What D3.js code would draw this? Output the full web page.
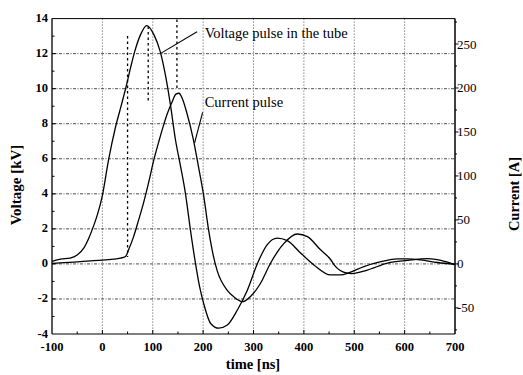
<!DOCTYPE html>
<html>
<head>
<meta charset="utf-8">
<script src="https://cdn.jsdelivr.net/npm/d3@7"></script>
<style>
  html, body { margin: 0; padding: 0; background: #fff; }
  svg { display: block; }
</style>
</head>
<body>
<svg id="chart" width="523" height="375"></svg>
<script>
// ---- data (time in ns) ----
const voltageT = [-100, -83, -64, -50, -37, -27, -17, -10, 0, 12, 26, 38, 47, 56, 64, 76, 88, 102, 115, 125, 135, 145, 155, 165, 175, 185, 193, 201, 215, 231, 248, 268, 288, 308, 327, 347, 367, 394, 420, 453, 473, 490, 519, 553, 586, 606, 632, 665, 700];
const voltageKV = [0.15, 0.27, 0.33, 0.51, 0.9, 1.47, 2.2, 2.8, 3.9, 5.9, 7.8, 9.1, 10.1, 11.2, 12.1, 13.1, 13.6, 13.1, 12.1, 10.8, 9.1, 7.1, 5.6, 4.0, 1.9, 0.0, -1.3, -2.25, -3.4, -3.67, -3.49, -2.63, -1.49, 0.04, 1.09, 1.47, 1.33, 0.61, -0.06, -0.63, -0.63, -0.5, -0.15, 0.13, 0.29, 0.29, 0.23, 0.08, -0.02];

const currentT = [-100, -24, 36, 46, 52, 62, 72, 82, 92, 102, 112, 120, 129, 139, 146, 152, 158, 168, 180, 190, 201, 211, 220, 228, 248, 262, 278, 294, 314, 334, 360, 387, 407, 433, 453, 460, 486, 495, 526, 566, 606, 646, 672, 700];
const currentA = [0.6, 3.4, 6.6, 8.4, 16, 31, 50, 70, 93, 118, 139, 155, 171, 185, 193, 194, 189, 171, 143, 113, 78, 38, 10, -8, -30, -38, -43, -37, -22, 1, 23, 34, 31, 16, 5, -1, -10.5, -11, -7, 1, 4, 6, 4, -1];

const timeTicks = [-100, 0, 100, 200, 300, 400, 500, 600, 700];
const voltTicks = [-4, -2, 0, 2, 4, 6, 8, 10, 12, 14];
const currTicks = [-50, 0, 50, 100, 150, 200, 250];

// dashed markers: time, top (kV), bottom (kV)
const markT = [50, 91, 148];
const markTop = [13.0, 13.55, 13.95];
const markBottom = [0.4, 9.2, 10.0];

// annotations
const annLabels = ["Voltage pulse in the tube", "Current pulse"];
const annTextT = [203, 203];
const annTextV = [12.9, 8.95];
const annFromT = [188, 199];
const annFromV = [13.25, 8.65];
const annToT = [115, 183];
const annToV = [12.0, 6.9];

// ---- layout ----
const FONT = '"Liberation Serif", "Times New Roman", serif';
const svg = d3.select("#chart");
const m = { left: 52, right: 455, top: 18.6, bottom: 334 };

const x = d3.scaleLinear().domain([-100, 700]).range([m.left, m.right]);
const yV = d3.scaleLinear().domain([-4, 14]).range([m.bottom, m.top]);
const yI = d3.scaleLinear().domain([-79.7, 278.9]).range([m.bottom, m.top]);

function txt(sel) { return sel.style("font-family", FONT).attr("fill", "#000"); }

// grid
const g = svg.append("g");
g.selectAll(".hgrid").data(voltTicks.filter(v => v > -4 && v < 14)).enter().append("line")
  .attr("x1", m.left).attr("x2", m.right)
  .attr("y1", d => yV(d)).attr("y2", d => yV(d))
  .attr("stroke", "#222").attr("stroke-width", 0.8).attr("stroke-dasharray", "3,1.5,1,1.5");
g.selectAll(".vgrid").data(timeTicks.filter(t => t > -100 && t < 700)).enter().append("line")
  .attr("y1", m.top).attr("y2", m.bottom)
  .attr("x1", d => x(d)).attr("x2", d => x(d))
  .attr("stroke", "#222").attr("stroke-width", 0.8).attr("stroke-dasharray", "1,2");

// frame
svg.append("line").attr("x1", m.left).attr("x2", m.right).attr("y1", m.top).attr("y2", m.top)
  .attr("stroke", "#000").attr("stroke-width", 1);
svg.append("line").attr("x1", m.left).attr("x2", m.right).attr("y1", m.bottom).attr("y2", m.bottom)
  .attr("stroke", "#000").attr("stroke-width", 1.2);
svg.append("line").attr("x1", m.left).attr("x2", m.left).attr("y1", m.top).attr("y2", m.bottom)
  .attr("stroke", "#000").attr("stroke-width", 1.3);
svg.append("line").attr("x1", m.right).attr("x2", m.right).attr("y1", m.top).attr("y2", m.bottom)
  .attr("stroke", "#000").attr("stroke-width", 1.5);

// minor ticks
const minorV = d3.range(-3, 14, 1);
svg.selectAll(".mv").data(minorV).enter().append("line")
  .attr("x1", m.left).attr("x2", d => m.left + (d % 2 === 0 ? 4 : 2.5))
  .attr("y1", d => yV(d)).attr("y2", d => yV(d)).attr("stroke", "#000").attr("stroke-width", 1);
const minorT = d3.range(-50, 700, 50);
svg.selectAll(".mt").data(minorT).enter().append("line")
  .attr("x1", d => x(d)).attr("x2", d => x(d))
  .attr("y1", m.bottom).attr("y2", d => m.bottom - (d % 100 === 0 ? 4 : 2.5))
  .attr("stroke", "#000").attr("stroke-width", 1);
const minorI = d3.range(-75, 279, 25);
svg.selectAll(".mi").data(minorI).enter().append("line")
  .attr("x1", m.right).attr("x2", d => m.right + (d % 50 === 0 ? 3.5 : 2))
  .attr("y1", d => yI(d)).attr("y2", d => yI(d)).attr("stroke", "#000").attr("stroke-width", 1);

// tick labels
txt(svg.selectAll(".lv").data(voltTicks).enter().append("text"))
  .attr("x", m.left - 4).attr("y", d => yV(d) + 3.5)
  .attr("text-anchor", "end").style("font-size", "12.5px").style("font-weight", "bold")
  .text(d => d);
txt(svg.selectAll(".lt").data(timeTicks).enter().append("text"))
  .attr("x", d => x(d)).attr("y", 351)
  .attr("text-anchor", "middle").style("font-size", "12.5px").style("font-weight", "bold")
  .text(d => d);
txt(svg.selectAll(".li").data(currTicks).enter().append("text"))
  .attr("x", m.right + 2).attr("y", d => yI(d) + 4.5)
  .attr("text-anchor", "start").style("font-size", "13px")
  .text(d => d);

// axis titles
txt(svg.append("text")).attr("transform", "translate(21,185) rotate(-90)")
  .attr("text-anchor", "middle").style("font-size", "15px").style("font-weight", "bold")
  .text("Voltage [kV]");
txt(svg.append("text")).attr("transform", "translate(519,194) rotate(-90)")
  .attr("text-anchor", "middle").style("font-size", "14.5px").style("font-weight", "bold")
  .text("Current [A]");
txt(svg.append("text")).attr("x", 253).attr("y", 369)
  .attr("text-anchor", "middle").style("font-size", "14.5px").style("font-weight", "bold")
  .text("time [ns]");

// dashed markers
svg.selectAll(".mk").data(markT).enter().append("line")
  .attr("x1", d => x(d)).attr("x2", d => x(d))
  .attr("y1", (d, i) => yV(markTop[i])).attr("y2", (d, i) => yV(markBottom[i]))
  .attr("stroke", "#000").attr("stroke-width", 1.3).attr("stroke-dasharray", "2.5,3");

// curves
const lineV = d3.line().x((d, i) => x(voltageT[i])).y(d => yV(d)).curve(d3.curveMonotoneX);
const lineI = d3.line().x((d, i) => x(currentT[i])).y(d => yI(d)).curve(d3.curveMonotoneX);
svg.append("path").attr("d", lineV(voltageKV)).attr("fill", "none").attr("stroke", "#000").attr("stroke-width", 1.3);
svg.append("path").attr("d", lineI(currentA)).attr("fill", "none").attr("stroke", "#000").attr("stroke-width", 1.3);

// annotations
annLabels.forEach((lab, i) => {
  svg.append("line")
    .attr("x1", x(annFromT[i])).attr("y1", yV(annFromV[i]))
    .attr("x2", x(annToT[i])).attr("y2", yV(annToV[i]))
    .attr("stroke", "#000").attr("stroke-width", 1.1);
  txt(svg.append("text")).attr("x", x(annTextT[i])).attr("y", yV(annTextV[i]))
    .style("font-size", "14.5px").text(lab);
});
</script>
</body>
</html>
